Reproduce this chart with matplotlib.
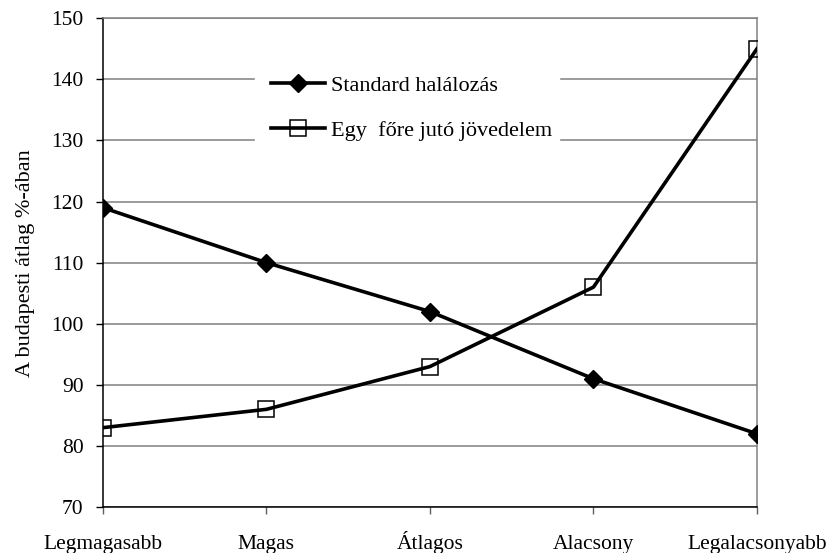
import matplotlib.pyplot as plt

categories = ["Legmagasabb", "Magas", "Átlagos", "Alacsony", "Legalacsonyabb"]
halalozas = [119, 110, 102, 91, 82]
jovedelem = [83, 86, 93, 106, 145]

plt.rcParams["font.family"] = ["Liberation Serif", "DejaVu Serif"]

fig = plt.figure(figsize=(8.3, 5.53), dpi=100)
# axes box: left 103px, right 757px, top 18px, bottom 507px
ax = fig.add_axes([0.124, 0.083, 0.788, 0.884])

x = list(range(len(categories)))
ax.plot(x, halalozas, color="black", lw=2.6, marker="D", ms=9,
        mfc="black", mec="black", label="Standard halálozás", zorder=3)
ax.plot(x, jovedelem, color="black", lw=2.6, marker="s", ms=11,
        mfc="none", mec="black", mew=1.1, label="Egy  főre jutó jövedelem", zorder=3)

ax.set_xlim(0, 4)
ax.set_ylim(70, 150)
ax.set_yticks(range(70, 151, 10))
ax.set_xticks(x)
ax.set_xticklabels(categories)
ax.yaxis.grid(True, color="#808080", lw=1.1)
ax.set_axisbelow(True)

for side in ["top", "right"]:
    ax.spines[side].set_color("#808080")
    ax.spines[side].set_linewidth(1.1)
for side in ["left", "bottom"]:
    ax.spines[side].set_color("black")
    ax.spines[side].set_linewidth(1.1)

ax.tick_params(axis="y", labelsize=15.5, direction="out", length=5, width=1, pad=9)
ax.tick_params(axis="x", labelsize=15.5, direction="out", length=5, width=1,
               color="#606060", pad=25)
for lab in ax.get_xticklabels():
    lab.set_verticalalignment("baseline")

ax.set_ylabel("A budapesti átlag %-ában", fontsize=16)
ax.yaxis.set_label_coords(-0.104, 0.5)

leg = ax.legend(loc="upper left", bbox_to_anchor=(0.232, 0.918, 0.465, 0.0),
                mode="expand", borderaxespad=0, frameon=True,
                fontsize=16, handlelength=2.4, borderpad=0.75, labelspacing=1.13,
                handletextpad=0.3, markerscale=1.0)
leg.get_frame().set_edgecolor("white")
leg.get_frame().set_facecolor("white")
leg.get_frame().set_alpha(1)
leg.get_frame().set_boxstyle("square", pad=0)

fig.savefig("out.png", dpi=100)
